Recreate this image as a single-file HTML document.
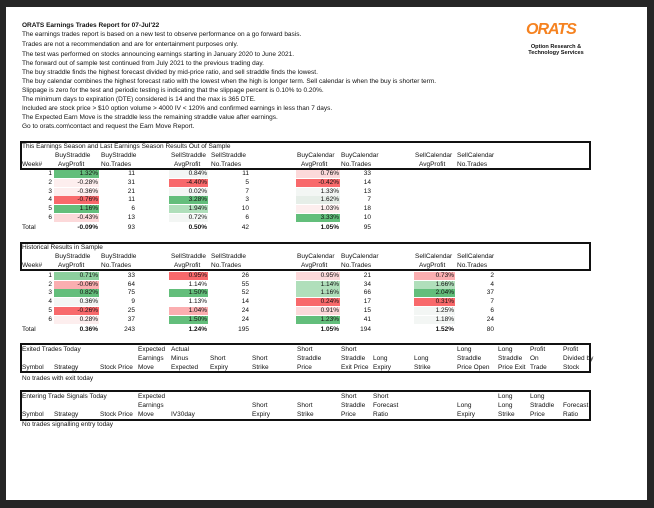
<!DOCTYPE html>
<html><head><meta charset="utf-8"><style>
body{margin:0;width:654px;height:508px;background:#262626;position:relative;overflow:hidden;font-family:"Liberation Sans",sans-serif;color:#111}
.pg{position:absolute;left:6px;top:7px;width:641px;height:493px;background:#fff}
.t{position:absolute;white-space:nowrap;font-size:6.5px;line-height:9px;height:9px}
.b{font-weight:bold}
.box{position:absolute;left:20px;width:571px;border:2px solid #111;box-sizing:border-box}
.c{position:absolute;height:8px;width:45px;text-align:right;padding-right:1px;box-sizing:border-box;font-size:6.5px;line-height:8px;white-space:nowrap}
.n{position:absolute;width:40px;text-align:right;font-size:6.5px;line-height:8px;white-space:nowrap}
.G{background:#63be7b}.MG{background:#8ccf9d}.LG{background:#b0dfbb}.R{background:#f8696b}.P{background:#fbaeb0}.LP{background:#fcd9da}.VP{background:#fdeeee}.W{background:#f3f6f4}
.bx .t{margin-top:1px}
</style></head><body>
<div class="pg"></div>
<div class="t b" style="left:22px;top:21px">ORATS Earnings Trades Report for 07-Jul'22</div>
<div class="t" style="left:22px;top:30px">The earnings trades report is based on a new test to observe performance on a go forward basis.</div>
<div class="t" style="left:22px;top:40px">Trades are not a recommendation and are for entertainment purposes only.</div>
<div class="t" style="left:22px;top:50px">The test was performed on stocks announcing earnings starting in January 2020 to June 2021.</div>
<div class="t" style="left:22px;top:59px">The forward out of sample test continued from July 2021 to the previous trading day.</div>
<div class="t" style="left:22px;top:68px">The buy straddle finds the highest forecast divided by mid-price ratio, and sell straddle finds the lowest.</div>
<div class="t" style="left:22px;top:77px">The buy calendar combines the highest forecast ratio with the lowest when the high is longer term. Sell calendar is when the buy is shorter term.</div>
<div class="t" style="left:22px;top:86px">Slippage is zero for the test and periodic testing is indicating that the slippage percent is 0.10% to 0.20%.</div>
<div class="t" style="left:22px;top:95px">The minimum days to expiration (DTE) considered is 14 and the max is 365 DTE.</div>
<div class="t" style="left:22px;top:104px">Included are stock price &gt; $10 option volume &gt; 4000 IV &lt; 120% and confirmed earnings in less than 7 days.</div>
<div class="t" style="left:22px;top:113px">The Expected Earn Move is the straddle less the remaining straddle value after earnings.</div>
<div class="t" style="left:22px;top:122px">Go to orats.com\contact and request the Earn Move Report.</div>

<div style="position:absolute;left:526px;top:22px;width:60px;font:italic bold 16px 'Liberation Sans',sans-serif;color:#f58220;letter-spacing:-1px;line-height:16px">ORATS</div>
<div style="position:absolute;left:520px;top:44px;width:72px;text-align:center;font:bold 5.6px/6px 'Liberation Sans',sans-serif">Option Research &amp;<br>Technology Services</div>

<div class="bx">
<!-- Table 1 -->
<div class="box" style="top:141px;height:29px"></div>
<div class="t" style="left:22px;top:141px">This Earnings Season and Last Earnings Season Results Out of Sample</div>
<div class="t" style="left:55px;top:150px">BuyStraddle</div><div class="t" style="left:101px;top:150px">BuyStraddle</div>
<div class="t" style="left:171px;top:150px">SellStraddle</div><div class="t" style="left:211px;top:150px">SellStraddle</div>
<div class="t" style="left:297px;top:150px">BuyCalendar</div><div class="t" style="left:341px;top:150px">BuyCalendar</div>
<div class="t" style="left:415px;top:150px">SellCalendar</div><div class="t" style="left:457px;top:150px">SellCalendar</div>
<div class="t" style="left:22px;top:159px">Week#</div>
<div class="t" style="left:58px;top:159px">AvgProfit</div><div class="t" style="left:101px;top:159px">No.Trades</div>
<div class="t" style="left:174px;top:159px">AvgProfit</div><div class="t" style="left:211px;top:159px">No.Trades</div>
<div class="t" style="left:301px;top:159px">AvgProfit</div><div class="t" style="left:341px;top:159px">No.Trades</div>
<div class="t" style="left:419px;top:159px">AvgProfit</div><div class="t" style="left:457px;top:159px">No.Trades</div>

<!-- Table 2 -->
<div class="box" style="top:242px;height:29px"></div>
<div class="t" style="left:22px;top:242px">Historical Results in Sample</div>
<div class="t" style="left:55px;top:251px">BuyStraddle</div><div class="t" style="left:101px;top:251px">BuyStraddle</div>
<div class="t" style="left:171px;top:251px">SellStraddle</div><div class="t" style="left:211px;top:251px">SellStraddle</div>
<div class="t" style="left:297px;top:251px">BuyCalendar</div><div class="t" style="left:341px;top:251px">BuyCalendar</div>
<div class="t" style="left:415px;top:251px">SellCalendar</div><div class="t" style="left:457px;top:251px">SellCalendar</div>
<div class="t" style="left:22px;top:260px">Week#</div>
<div class="t" style="left:58px;top:260px">AvgProfit</div><div class="t" style="left:101px;top:260px">No.Trades</div>
<div class="t" style="left:174px;top:260px">AvgProfit</div><div class="t" style="left:211px;top:260px">No.Trades</div>
<div class="t" style="left:301px;top:260px">AvgProfit</div><div class="t" style="left:341px;top:260px">No.Trades</div>
<div class="t" style="left:419px;top:260px">AvgProfit</div><div class="t" style="left:457px;top:260px">No.Trades</div>

<!-- Exited -->
<div class="box" style="top:343px;height:30px"></div>
<div class="t" style="left:22px;top:344px">Exited Trades Today</div>
<div class="t" style="left:138px;top:344px">Expected</div><div class="t" style="left:171px;top:344px">Actual</div><div class="t" style="left:297px;top:344px">Short</div><div class="t" style="left:341px;top:344px">Short</div><div class="t" style="left:457px;top:344px">Long</div><div class="t" style="left:498px;top:344px">Long</div><div class="t" style="left:530px;top:344px">Profit</div><div class="t" style="left:563px;top:344px">Profit</div>
<div class="t" style="left:138px;top:353px">Earnings</div><div class="t" style="left:171px;top:353px">Minus</div><div class="t" style="left:210px;top:353px">Short</div><div class="t" style="left:252px;top:353px">Short</div><div class="t" style="left:297px;top:353px">Straddle</div><div class="t" style="left:341px;top:353px">Straddle</div><div class="t" style="left:373px;top:353px">Long</div><div class="t" style="left:414px;top:353px">Long</div><div class="t" style="left:457px;top:353px">Straddle</div><div class="t" style="left:498px;top:353px">Straddle</div><div class="t" style="left:530px;top:353px">On</div><div class="t" style="left:563px;top:353px">Divided by</div>
<div class="t" style="left:22px;top:362px">Symbol</div><div class="t" style="left:54px;top:362px">Strategy</div><div class="t" style="left:100px;top:362px">Stock Price</div><div class="t" style="left:138px;top:362px">Move</div><div class="t" style="left:171px;top:362px">Expected</div><div class="t" style="left:210px;top:362px">Expiry</div><div class="t" style="left:252px;top:362px">Strike</div><div class="t" style="left:297px;top:362px">Price</div><div class="t" style="left:341px;top:362px">Exit Price</div><div class="t" style="left:373px;top:362px">Expiry</div><div class="t" style="left:414px;top:362px">Strike</div><div class="t" style="left:457px;top:362px">Price Open</div><div class="t" style="left:498px;top:362px">Price Exit</div><div class="t" style="left:530px;top:362px">Trade</div><div class="t" style="left:563px;top:362px">Stock</div>

<!-- Entering -->
<div class="box" style="top:390px;height:31px"></div>
<div class="t" style="left:22px;top:391px">Entering Trade Signals Today</div>
<div class="t" style="left:138px;top:391px">Expected</div><div class="t" style="left:341px;top:391px">Short</div><div class="t" style="left:373px;top:391px">Short</div><div class="t" style="left:498px;top:391px">Long</div><div class="t" style="left:530px;top:391px">Long</div>
<div class="t" style="left:138px;top:400px">Earnings</div><div class="t" style="left:252px;top:400px">Short</div><div class="t" style="left:297px;top:400px">Short</div><div class="t" style="left:341px;top:400px">Straddle</div><div class="t" style="left:373px;top:400px">Forecast</div><div class="t" style="left:457px;top:400px">Long</div><div class="t" style="left:498px;top:400px">Long</div><div class="t" style="left:530px;top:400px">Straddle</div><div class="t" style="left:563px;top:400px">Forecast</div>
<div class="t" style="left:22px;top:409px">Symbol</div><div class="t" style="left:54px;top:409px">Strategy</div><div class="t" style="left:100px;top:409px">Stock Price</div><div class="t" style="left:138px;top:409px">Move</div><div class="t" style="left:171px;top:409px">IV30day</div><div class="t" style="left:252px;top:409px">Expiry</div><div class="t" style="left:297px;top:409px">Strike</div><div class="t" style="left:341px;top:409px">Price</div><div class="t" style="left:373px;top:409px">Ratio</div><div class="t" style="left:457px;top:409px">Expiry</div><div class="t" style="left:498px;top:409px">Strike</div><div class="t" style="left:530px;top:409px">Price</div><div class="t" style="left:563px;top:409px">Ratio</div>
</div>

<div class="n" style="left:12px;top:170px">1</div><div class="c G" style="left:54px;top:170px">1.32%</div><div class="n" style="left:95px;top:170px">11</div><div class="c W" style="left:169px;top:170px;width:39px">0.84%</div><div class="n" style="left:209px;top:170px">11</div><div class="c LP" style="left:296px;top:170px;width:44px">0.76%</div><div class="n" style="left:331px;top:170px">33</div>
<div class="n" style="left:12px;top:179px">2</div><div class="c VP" style="left:54px;top:179px">-0.28%</div><div class="n" style="left:95px;top:179px">31</div><div class="c R" style="left:169px;top:179px;width:39px">-4.40%</div><div class="n" style="left:209px;top:179px">5</div><div class="c R" style="left:296px;top:179px;width:44px">-0.42%</div><div class="n" style="left:331px;top:179px">14</div>
<div class="n" style="left:12px;top:188px">3</div><div class="c VP" style="left:54px;top:188px">-0.36%</div><div class="n" style="left:95px;top:188px">21</div><div class="c W" style="left:169px;top:188px;width:39px">0.02%</div><div class="n" style="left:209px;top:188px">7</div><div class="c W" style="left:296px;top:188px;width:44px">1.33%</div><div class="n" style="left:331px;top:188px">13</div>
<div class="n" style="left:12px;top:196px">4</div><div class="c R" style="left:54px;top:196px">-0.76%</div><div class="n" style="left:95px;top:196px">11</div><div class="c G" style="left:169px;top:196px;width:39px">3.28%</div><div class="n" style="left:209px;top:196px">3</div><div class="c" style="left:296px;top:196px;width:44px;background:#e6eee8">1.62%</div><div class="n" style="left:331px;top:196px">7</div>
<div class="n" style="left:12px;top:205px">5</div><div class="c G" style="left:54px;top:205px">1.16%</div><div class="n" style="left:95px;top:205px">6</div><div class="c LG" style="left:169px;top:205px;width:39px">1.94%</div><div class="n" style="left:209px;top:205px">10</div><div class="c VP" style="left:296px;top:205px;width:44px">1.03%</div><div class="n" style="left:331px;top:205px">18</div>
<div class="n" style="left:12px;top:214px">6</div><div class="c LP" style="left:54px;top:214px">-0.43%</div><div class="n" style="left:95px;top:214px">13</div><div class="c W" style="left:169px;top:214px;width:39px">0.72%</div><div class="n" style="left:209px;top:214px">6</div><div class="c G" style="left:296px;top:214px;width:44px">3.33%</div><div class="n" style="left:331px;top:214px">10</div>
<div class="t" style="left:22px;top:223px">Total</div><div class="c b" style="left:54px;top:224px">-0.09%</div><div class="n" style="left:95px;top:224px">93</div><div class="c b" style="left:169px;top:224px;width:39px">0.50%</div><div class="n" style="left:209px;top:224px">42</div><div class="c b" style="left:296px;top:224px;width:44px">1.05%</div><div class="n" style="left:331px;top:224px">95</div>

<div class="n" style="left:12px;top:272px">1</div><div class="c MG" style="left:54px;top:272px">0.71%</div><div class="n" style="left:95px;top:272px">33</div><div class="c R" style="left:169px;top:272px;width:39px">0.95%</div><div class="n" style="left:209px;top:272px">26</div><div class="c LP" style="left:296px;top:272px;width:44px">0.95%</div><div class="n" style="left:331px;top:272px">21</div><div class="c P" style="left:414px;top:272px;width:41px">0.73%</div><div class="n" style="left:454px;top:272px">2</div>
<div class="n" style="left:12px;top:281px">2</div><div class="c P" style="left:54px;top:281px">-0.06%</div><div class="n" style="left:95px;top:281px">64</div><div class="c" style="left:169px;top:281px;width:39px">1.14%</div><div class="n" style="left:209px;top:281px">55</div><div class="c LG" style="left:296px;top:281px;width:44px">1.14%</div><div class="n" style="left:331px;top:281px">34</div><div class="c LG" style="left:414px;top:281px;width:41px">1.66%</div><div class="n" style="left:454px;top:281px">4</div>
<div class="n" style="left:12px;top:289px">3</div><div class="c G" style="left:54px;top:289px">0.82%</div><div class="n" style="left:95px;top:289px">75</div><div class="c G" style="left:169px;top:289px;width:39px">1.50%</div><div class="n" style="left:209px;top:289px">52</div><div class="c LG" style="left:296px;top:289px;width:44px">1.16%</div><div class="n" style="left:331px;top:289px">66</div><div class="c G" style="left:414px;top:289px;width:41px">2.04%</div><div class="n" style="left:454px;top:289px">37</div>
<div class="n" style="left:12px;top:298px">4</div><div class="c W" style="left:54px;top:298px">0.36%</div><div class="n" style="left:95px;top:298px">9</div><div class="c" style="left:169px;top:298px;width:39px">1.13%</div><div class="n" style="left:209px;top:298px">14</div><div class="c R" style="left:296px;top:298px;width:44px">0.24%</div><div class="n" style="left:331px;top:298px">17</div><div class="c R" style="left:414px;top:298px;width:41px">0.31%</div><div class="n" style="left:454px;top:298px">7</div>
<div class="n" style="left:12px;top:307px">5</div><div class="c R" style="left:54px;top:307px">-0.26%</div><div class="n" style="left:95px;top:307px">25</div><div class="c P" style="left:169px;top:307px;width:39px">1.04%</div><div class="n" style="left:209px;top:307px">24</div><div class="c LP" style="left:296px;top:307px;width:44px">0.91%</div><div class="n" style="left:331px;top:307px">15</div><div class="c W" style="left:414px;top:307px;width:41px">1.25%</div><div class="n" style="left:454px;top:307px">6</div>
<div class="n" style="left:12px;top:316px">6</div><div class="c VP" style="left:54px;top:316px">0.28%</div><div class="n" style="left:95px;top:316px">37</div><div class="c G" style="left:169px;top:316px;width:39px">1.50%</div><div class="n" style="left:209px;top:316px">24</div><div class="c G" style="left:296px;top:316px;width:44px">1.23%</div><div class="n" style="left:331px;top:316px">41</div><div class="c W" style="left:414px;top:316px;width:41px">1.18%</div><div class="n" style="left:454px;top:316px">24</div>
<div class="t" style="left:22px;top:325px">Total</div><div class="c b" style="left:54px;top:326px">0.36%</div><div class="n" style="left:95px;top:326px">243</div><div class="c b" style="left:169px;top:326px;width:39px">1.24%</div><div class="n" style="left:209px;top:326px">195</div><div class="c b" style="left:296px;top:326px;width:44px">1.05%</div><div class="n" style="left:331px;top:326px">194</div><div class="c b" style="left:414px;top:326px;width:41px">1.52%</div><div class="n" style="left:454px;top:326px">80</div>

<div class="t" style="left:22px;top:374px">No trades with exit today</div>
<div class="t" style="left:22px;top:420px">No trades signalling entry today</div>
</body></html>
